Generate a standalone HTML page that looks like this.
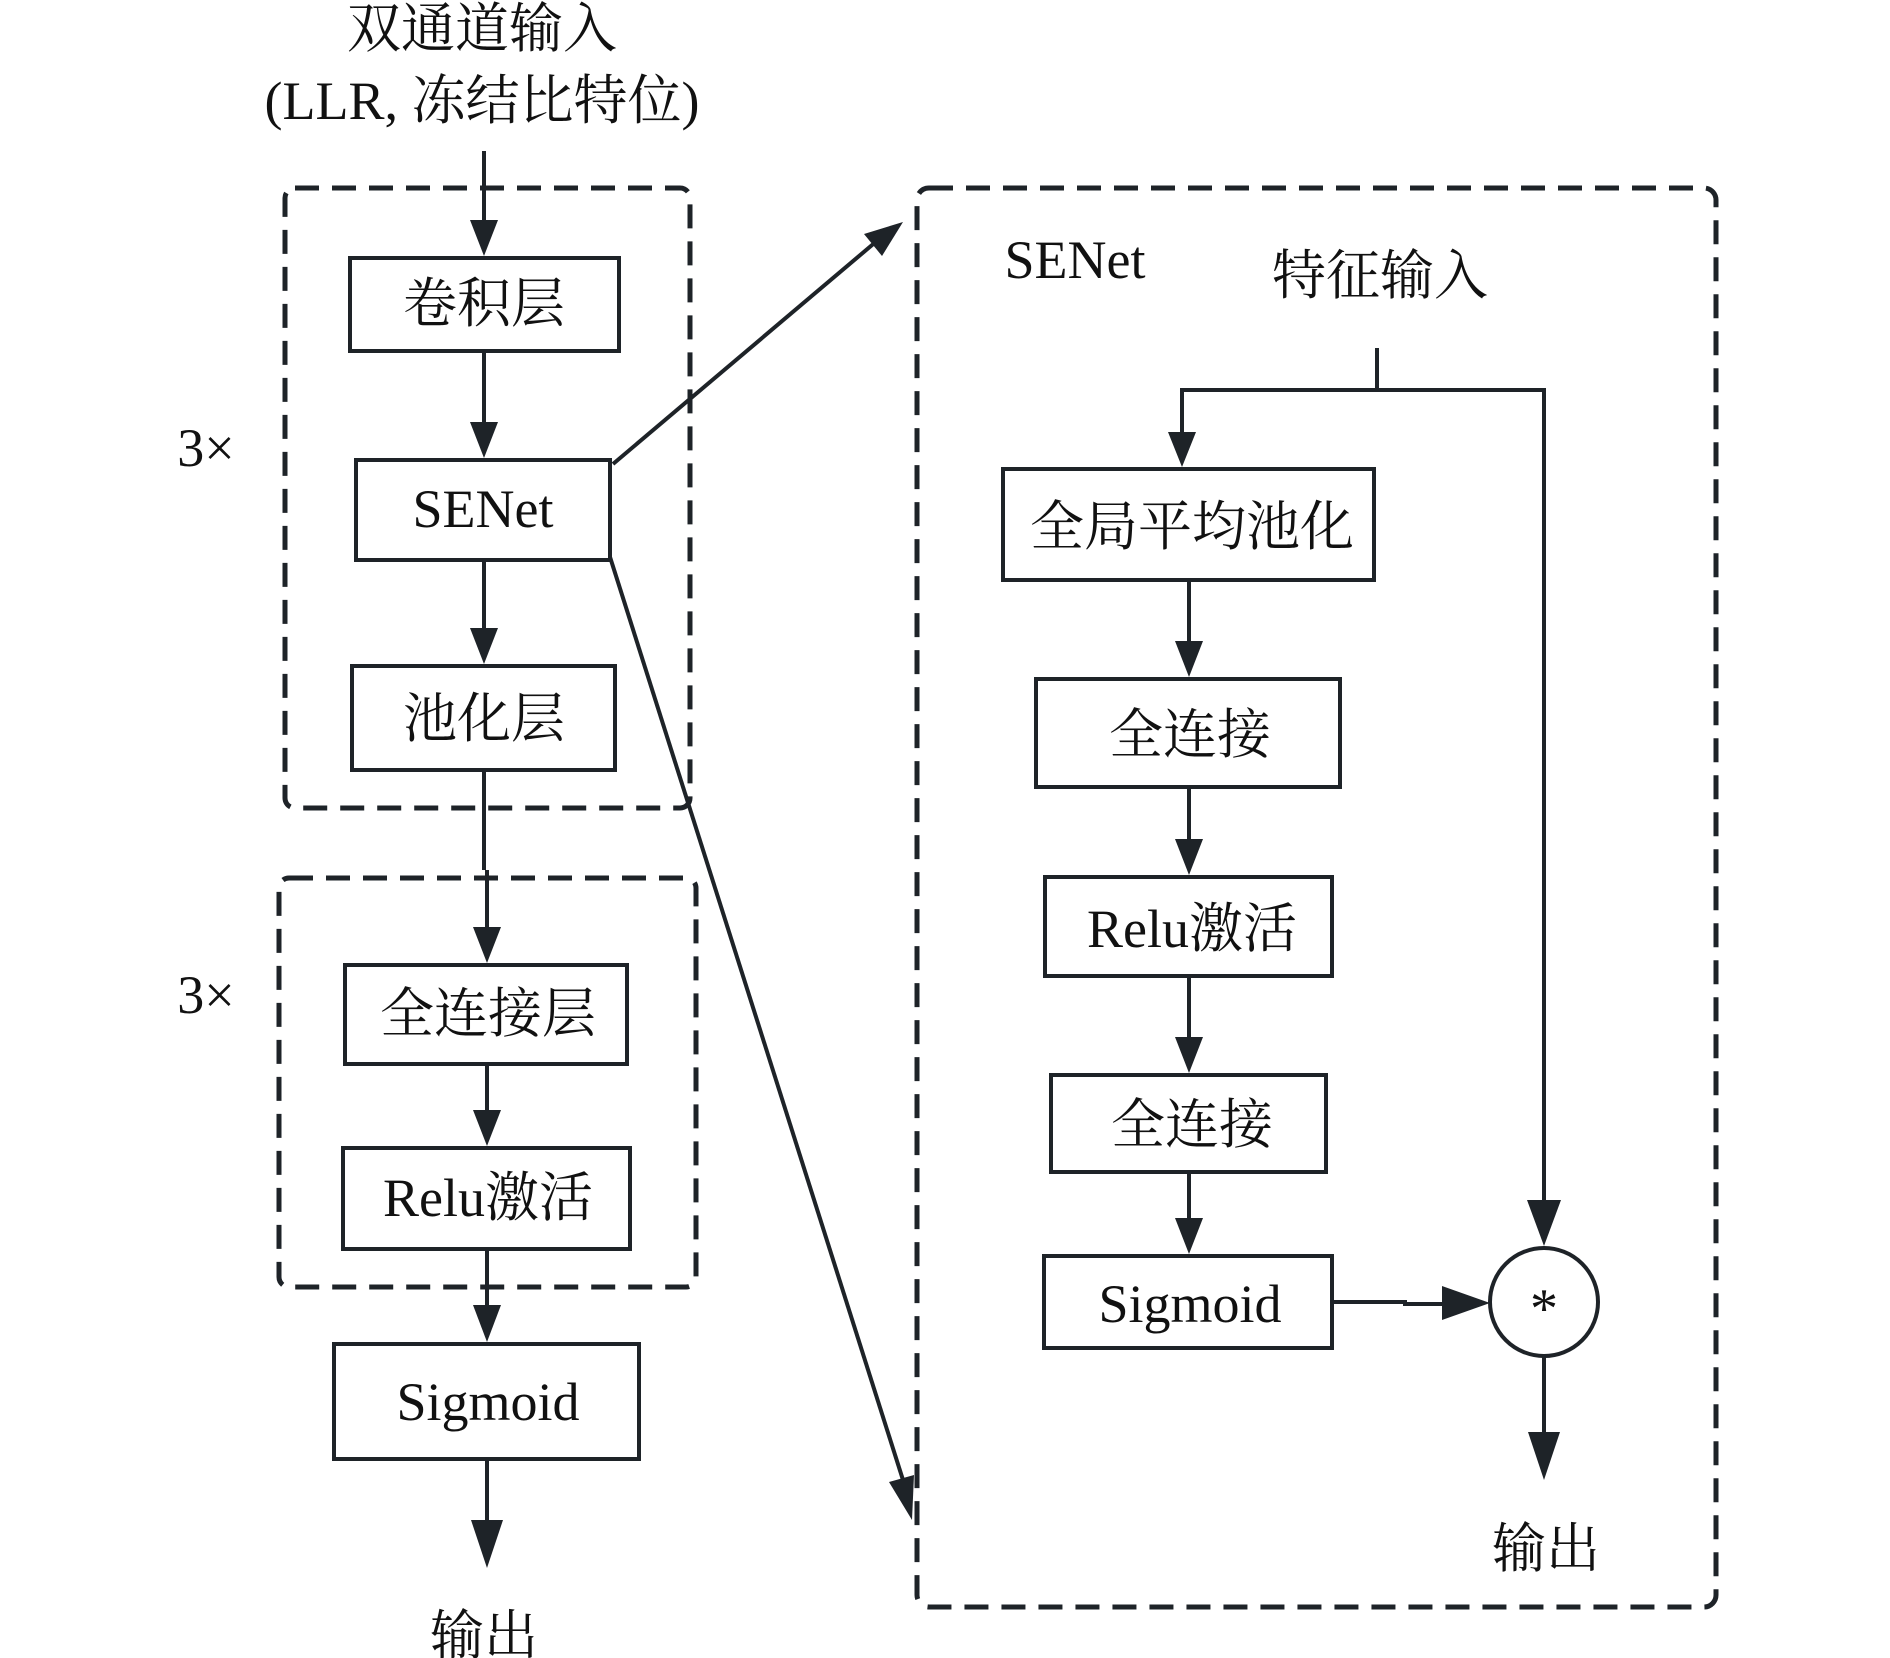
<!DOCTYPE html>
<html><head><meta charset="utf-8"><style>
html,body{margin:0;padding:0;background:#fff;}
svg{display:block;}
text{font-family:"Liberation Serif","Noto Serif CJK SC",serif;fill:#111;}
</style></head><body>
<svg width="1890" height="1658" viewBox="0 0 1890 1658" xmlns="http://www.w3.org/2000/svg">
<g stroke="#1e2328" stroke-width="4" fill="none">
<rect x="285" y="188" width="405" height="620" rx="10" stroke-width="5" stroke-dasharray="24,13"/>
<rect x="279" y="878" width="417" height="409" rx="10" stroke-width="5" stroke-dasharray="24,13"/>
<rect x="917" y="188" width="799" height="1419" rx="12" stroke-width="5" stroke-dasharray="24,13"/>
<rect x="350" y="258" width="269" height="93"/>
<rect x="356" y="460" width="254" height="100"/>
<rect x="352" y="666" width="263" height="104"/>
<rect x="345" y="965" width="282" height="99"/>
<rect x="343" y="1148" width="287" height="101"/>
<rect x="334" y="1344" width="305" height="115"/>
<g transform="translate(-5,0)">
<rect x="1008" y="469" width="371" height="111"/>
<rect x="1041" y="679" width="304" height="108"/>
<rect x="1050" y="877" width="287" height="99"/>
<rect x="1056" y="1075" width="275" height="97"/>
<rect x="1049" y="1256" width="288" height="92"/>
<circle cx="1549" cy="1302" r="54"/>
<polyline points="1382,348 1382,390 1187,390 1187,436"/>
<polyline points="1382,390 1549,390 1549,1205"/>
<line x1="1194" y1="580" x2="1194" y2="645"/>
<line x1="1194" y1="787" x2="1194" y2="843"/>
<line x1="1194" y1="976" x2="1194" y2="1041"/>
<line x1="1194" y1="1172" x2="1194" y2="1222"/>
<polyline points="1337,1302 1410,1302 1410,1304 1455,1304"/>
<line x1="1549" y1="1356" x2="1549" y2="1440"/>
</g>
<line x1="484" y1="151" x2="484" y2="222"/>
<line x1="484" y1="351" x2="484" y2="425"/>
<line x1="484" y1="560" x2="484" y2="632"/>
<line x1="484" y1="770" x2="484" y2="870"/>
<line x1="487" y1="870" x2="487" y2="932"/>
<line x1="487" y1="1064" x2="487" y2="1115"/>
<line x1="487" y1="1249" x2="487" y2="1310"/>
<line x1="487" y1="1459" x2="487" y2="1530"/>
<line x1="613" y1="464" x2="878" y2="240"/>
<line x1="610" y1="557" x2="903" y2="1480"/>
</g>
<g fill="#1e2328">
<polygon points="470,220 498,220 484,256"/>
<polygon points="470,422 498,422 484,458"/>
<polygon points="470,628 498,628 484,664"/>
<polygon points="473,927 501,927 487,963"/>
<polygon points="473,1110 501,1110 487,1146"/>
<polygon points="473,1305 501,1305 487,1342"/>
<polygon points="471,1520 503,1520 487,1568"/>
<g transform="translate(-5,0)">
<polygon points="1173,432 1201,432 1187,467"/>
<polygon points="1180,641 1208,641 1194,677"/>
<polygon points="1180,839 1208,839 1194,875"/>
<polygon points="1180,1037 1208,1037 1194,1073"/>
<polygon points="1180,1218 1208,1218 1194,1254"/>
<polygon points="1532,1200 1566,1200 1549,1246"/>
<polygon points="1447,1286 1447,1320 1495,1303"/>
<polygon points="1533,1432 1565,1432 1549,1480"/>
</g>
<polygon points="903,222 864,234 882,256"/>
<polygon points="912,1520 889,1482 914,1475"/>
</g>
<g font-size="54" text-anchor="middle">
<text x="482" y="47">双通道输入</text>
<text x="482" y="119">(LLR, 冻结比特位)</text>
<text x="484" y="322">卷积层</text>
<text x="483" y="527">SENet</text>
<text x="484" y="737">池化层</text>
<text x="488" y="1032">全连接层</text>
<text x="488" y="1216">Relu激活</text>
<text x="488" y="1420">Sigmoid</text>
<text x="484" y="1654">输出</text>
<text x="206" y="466">3×</text>
<text x="206" y="1013">3×</text>
<text x="1075" y="278">SENet</text>
<text x="1380" y="294">特征输入</text>
<text x="1192" y="545">全局平均池化</text>
<text x="1190" y="753">全连接</text>
<text x="1192" y="947">Relu激活</text>
<text x="1192" y="1143">全连接</text>
<text x="1190" y="1322">Sigmoid</text>
<text x="1544" y="1327" font-size="56">*</text>
<text x="1546" y="1567">输出</text>
</g>
</svg>
</body></html>
